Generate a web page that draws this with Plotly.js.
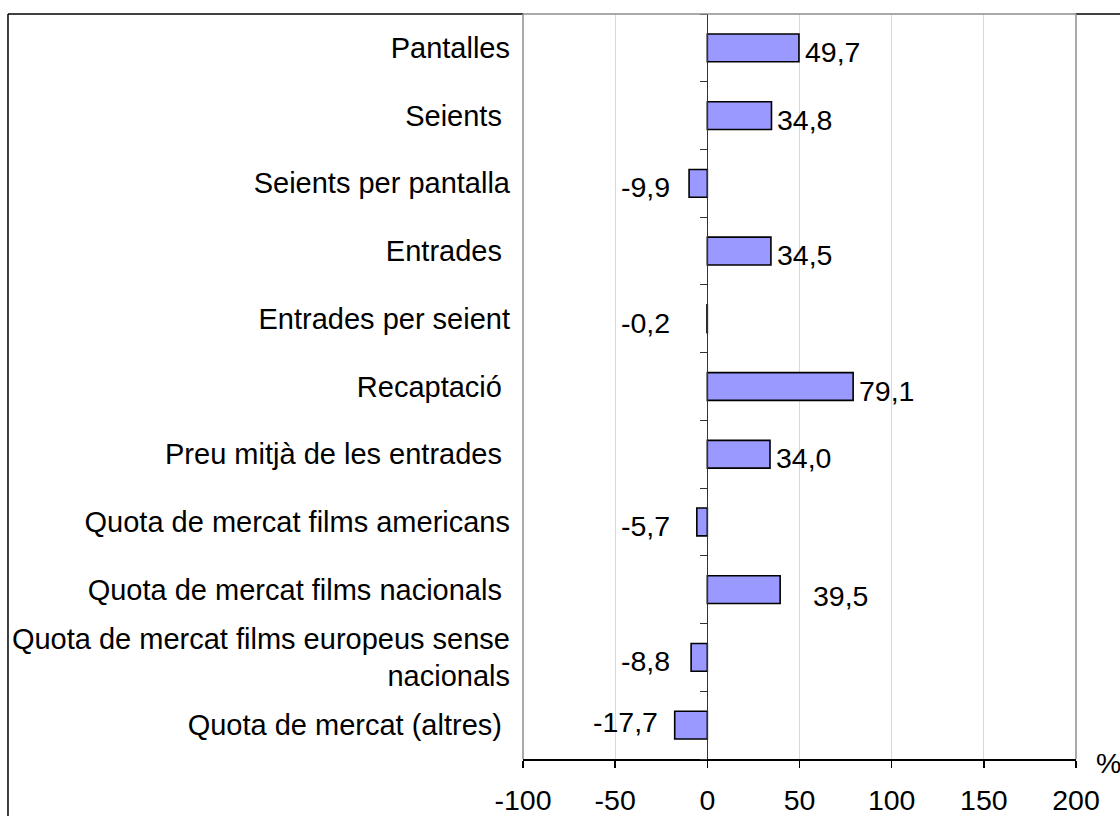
<!DOCTYPE html>
<html>
<head>
<meta charset="utf-8">
<script src="https://cdn.plot.ly/plotly-3.0.1.min.js"></script>
<style>html,body{margin:0;padding:0;background:#fff;}#chart{width:1120px;height:816px;}</style>
</head>
<body>
<div id="chart"></div>
<script>
// ---- data ----
const categories = [
  "Pantalles",
  "Seients\u00a0",
  "Seients per pantalla",
  "Entrades\u00a0",
  "Entrades per seient",
  "Recaptació\u00a0",
  "Preu mitjà de les entrades\u00a0",
  "Quota de mercat films americans",
  "Quota de mercat films nacionals\u00a0",
  "Quota de mercat films europeus sense<br>nacionals",
  "Quota de mercat (altres)\u00a0"
];
const values = [49.7, 34.8, -9.9, 34.5, -0.2, 79.1, 34.0, -5.7, 39.5, -8.8, -17.7];
const xTickVals = [-100, -50, 0, 50, 100, 150, 200];
const xTickText = ["-100", "-50", "0", "50", "100", "150", "200"];
const unitLabel = "%";

// ---- styling ----
const FONT = '"Liberation Sans", Arial, Helvetica, sans-serif';
const FS = 28.5;
const labelNudge = {8: {dx: 27, dy: -6}, 10: {dx: 0, dy: 3}};

const labels = values.map(v => v.toFixed(1).replace('.', ','));

const annotations = values.map((v, i) => {
  const n = labelNudge[i] || {dx: 0, dy: -4};
  const pos = v >= 0;
  return {
    x: pos ? v : Math.min(v, -11),
    y: categories[i],
    xref: 'x', yref: 'y',
    text: labels[i],
    showarrow: false,
    xanchor: pos ? 'left' : 'right',
    yanchor: 'middle',
    xshift: pos ? 4 + n.dx : -15 + n.dx,
    yshift: n.dy,
    font: {family: FONT, size: FS, color: '#000'}
  };
});
annotations.push({
  x: 1.0, y: -0.006, xref: 'paper', yref: 'paper', xshift: 18,
  text: unitLabel, showarrow: false, xanchor: 'left', yanchor: 'middle',
  font: {family: FONT, size: FS, color: '#000'}
});

const boundaries = [];
for (let i = 0; i <= categories.length; i++) boundaries.push(i - 0.5);

const data = [
  {
    type: 'bar',
    orientation: 'h',
    x: values,
    y: categories,
    marker: {color: '#9999ff', line: {color: '#000', width: 1.6}},
    hoverinfo: 'x+y',
    showlegend: false
  },
  {
    type: 'scatter', mode: 'markers', x: [null], y: [null], yaxis: 'y2',
    hoverinfo: 'skip', showlegend: false
  }
];

const gray = '#8c8c8c';
const shapes = [
  // outer frame
  {type: 'line', xref: 'paper', yref: 'paper', x0: -0.9313, x1: -0.9313, y0: 1, y1: -0.2, line: {color: '#000', width: 1.5}},
  {type: 'line', xref: 'paper', yref: 'paper', x0: -0.9313, x1: 0, y0: 1, y1: 1, line: {color: '#000', width: 1.5}},
  {type: 'line', xref: 'paper', yref: 'paper', x0: 1, x1: 1.2, y0: 1, y1: 1, line: {color: '#000', width: 1.5}},
  // plot border (left, top, right)
  {type: 'line', xref: 'paper', yref: 'paper', x0: 0, x1: 0, y0: 0, y1: 1, line: {color: gray, width: 1.5}},
  {type: 'line', xref: 'paper', yref: 'paper', x0: 0, x1: 1, y0: 1, y1: 1, line: {color: gray, width: 1.5}},
  {type: 'line', xref: 'paper', yref: 'paper', x0: 1, x1: 1, y0: 0, y1: 1, line: {color: gray, width: 1.5}}
];

const layout = {
  width: 1120, height: 816,
  margin: {l: 523, r: 44, t: 14, b: 57, pad: 0},
  paper_bgcolor: '#fff',
  plot_bgcolor: '#fff',
  bargap: 0.59,
  font: {family: FONT, size: FS, color: '#000'},
  xaxis: {
    range: [-100, 200],
    tickvals: xTickVals,
    ticktext: xTickText,
    showgrid: true, gridcolor: '#d9d9d9', gridwidth: 1,
    zeroline: false,
    showline: true, linecolor: '#000', linewidth: 1.5,
    ticks: 'outside', ticklen: 7, tickcolor: '#000', tickwidth: 1.5,
    ticklabelstandoff: 8,
    tickfont: {family: FONT, size: FS, color: '#000'},
    fixedrange: true
  },
  yaxis: {
    type: 'category',
    range: [categories.length - 0.5, -0.5],
    showgrid: false, zeroline: false, showline: false,
    ticks: '',
    ticklabelstandoff: 12,
    tickfont: {family: FONT, size: 29, color: '#000'},
    fixedrange: true
  },
  yaxis2: {
    overlaying: 'y', anchor: 'free', side: 'left',
    position: 1 / 3,
    range: [categories.length - 0.5, -0.5],
    tickvals: boundaries,
    showticklabels: false,
    showgrid: false, zeroline: false,
    showline: true, linecolor: '#333', linewidth: 1,
    ticks: 'outside', ticklen: 7, tickcolor: '#333', tickwidth: 1,
    fixedrange: true
  },
  shapes: shapes,
  annotations: annotations
};

Plotly.newPlot('chart', data, layout, {displayModeBar: false, staticPlot: true});
</script>
</body>
</html>
